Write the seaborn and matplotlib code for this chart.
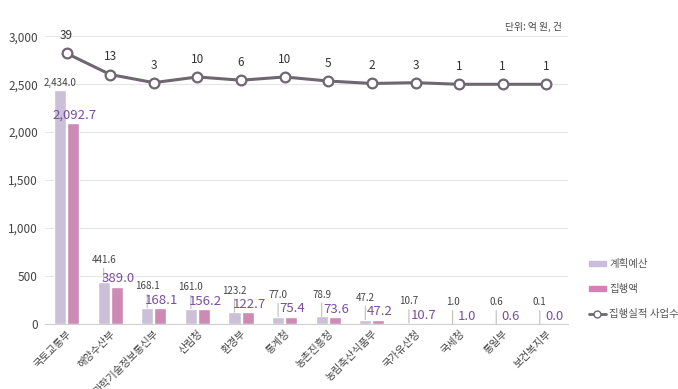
import numpy as np
import pandas as pd
import seaborn as sns
import matplotlib.pyplot as plt
from matplotlib.ticker import FuncFormatter
from matplotlib.lines import Line2D
from matplotlib.patches import Patch

# 데이터
부처 = ['국토교통부', '해양수산부', '과학기술정보통신부', '산림청', '환경부', '통계청',
      '농촌진흥청', '농림축산식품부', '국가유산청', '국세청', '통일부', '보건복지부']
계획예산 = [2434.0, 441.6, 168.1, 161.0, 123.2, 77.0, 78.9, 47.2, 10.7, 1.0, 0.6, 0.1]
집행액 = [2092.7, 389.0, 168.1, 156.2, 122.7, 75.4, 73.6, 47.2, 10.7, 1.0, 0.6, 0.0]
사업수 = [39, 13, 3, 10, 6, 10, 5, 2, 3, 1, 1, 1]

sns.set_style('white')
plt.rcParams['font.family'] = ['Noto Sans CJK KR', 'DejaVu Sans']

c_plan = '#cbbcdb'
c_exec = '#d77fb7'
c_line = '#6f6672'
c_txt = '#7a4d9e'

df = pd.DataFrame({'부처': 부처 * 2,
                   '값': 계획예산 + 집행액,
                   '구분': ['계획예산'] * len(부처) + ['집행액'] * len(부처)})

fig = plt.figure(figsize=(6.78, 3.89), dpi=100)
ax = fig.add_axes([0.066, 0.167, 0.772, 0.74])

sns.barplot(data=df, x='부처', y='값', hue='구분', hue_order=['계획예산', '집행액'],
            palette=[c_plan, c_exec], width=0.6, gap=0.08, ax=ax, legend=False)

ax.set_ylim(0, 3000)
ax.set_xlim(-0.5, len(부처) - 0.5)
ax.set_yticks(range(0, 3001, 500))
ax.yaxis.set_major_formatter(FuncFormatter(lambda v, p: f'{v:,.0f}'))
ax.grid(axis='y', color='#e6e6e6', lw=0.8)
ax.set_axisbelow(True)
for s in ['left', 'right', 'top']:
    ax.spines[s].set_visible(False)
ax.spines['bottom'].set_color('#d0d0d0')
ax.tick_params(axis='y', length=0, labelsize=8.5, labelcolor='#444444', pad=5)
ax.tick_params(axis='x', length=0, labelsize=7.5, labelcolor='#444444', pad=3)
ax.set_xlabel('')
ax.set_ylabel('')
plt.setp(ax.get_xticklabels(), rotation=45, ha='right', rotation_mode='anchor')

# 막대 라벨
for bar, v in zip(ax.containers[0], 계획예산):
    xc = bar.get_x() + bar.get_width() / 2
    if v > 1000:
        ax.annotate(f'{v:,.1f}', (xc, v), xytext=(0, 2), textcoords='offset points',
                    ha='center', va='bottom', fontsize=7, color='#444444')
    else:
        ax.annotate(f'{v:,.1f}', (xc, v), xytext=(0, 12), textcoords='offset points',
                    ha='center', va='bottom', fontsize=7, color='#444444',
                    arrowprops=dict(arrowstyle='-', color='#bdbdbd', lw=0.8,
                                    shrinkA=0, shrinkB=0))
for bar, v in zip(ax.containers[1], 집행액):
    xc = bar.get_x() + bar.get_width() / 2
    ax.annotate(f'{v:,.1f}', (xc, v), xytext=(1, 1), textcoords='offset points',
                ha='center', va='bottom', fontsize=9.5, color=c_txt)

# 사업수 꺾은선
ax2 = ax.twinx()
sns.lineplot(x=np.arange(len(부처)), y=사업수, ax=ax2, color=c_line, lw=2.2,
             marker='o', markersize=7, markerfacecolor='white',
             markeredgecolor=c_line, markeredgewidth=1.6)
ax2.set_ylim(-293, 60)
ax2.set_yticks([])
ax2.set_ylabel('')
for s in ax2.spines.values():
    s.set_visible(False)
for i, n in enumerate(사업수):
    ax2.annotate(str(n), (i, n), xytext=(0, 8), textcoords='offset points',
                 ha='center', va='bottom', fontsize=8.5, color='#333333')

fig.text(0.828, 0.9306, '단위: 억 원, 건', ha='right', va='center', fontsize=7, color='#444444')

handles = [Patch(color=c_plan), Patch(color=c_exec),
           Line2D([], [], color=c_line, lw=2, marker='o', markersize=5,
                  markerfacecolor='white', markeredgecolor=c_line)]
fig.legend(handles, ['계획예산', '집행액', '집행실적 사업수'], loc='upper left',
           bbox_to_anchor=(0.862, 0.345), frameon=False, fontsize=7.5,
           labelcolor='#555555', handlelength=1.7, handleheight=0.35,
           handletextpad=0.3, labelspacing=1.45, borderaxespad=0)

fig.savefig('out.png', dpi=100)
